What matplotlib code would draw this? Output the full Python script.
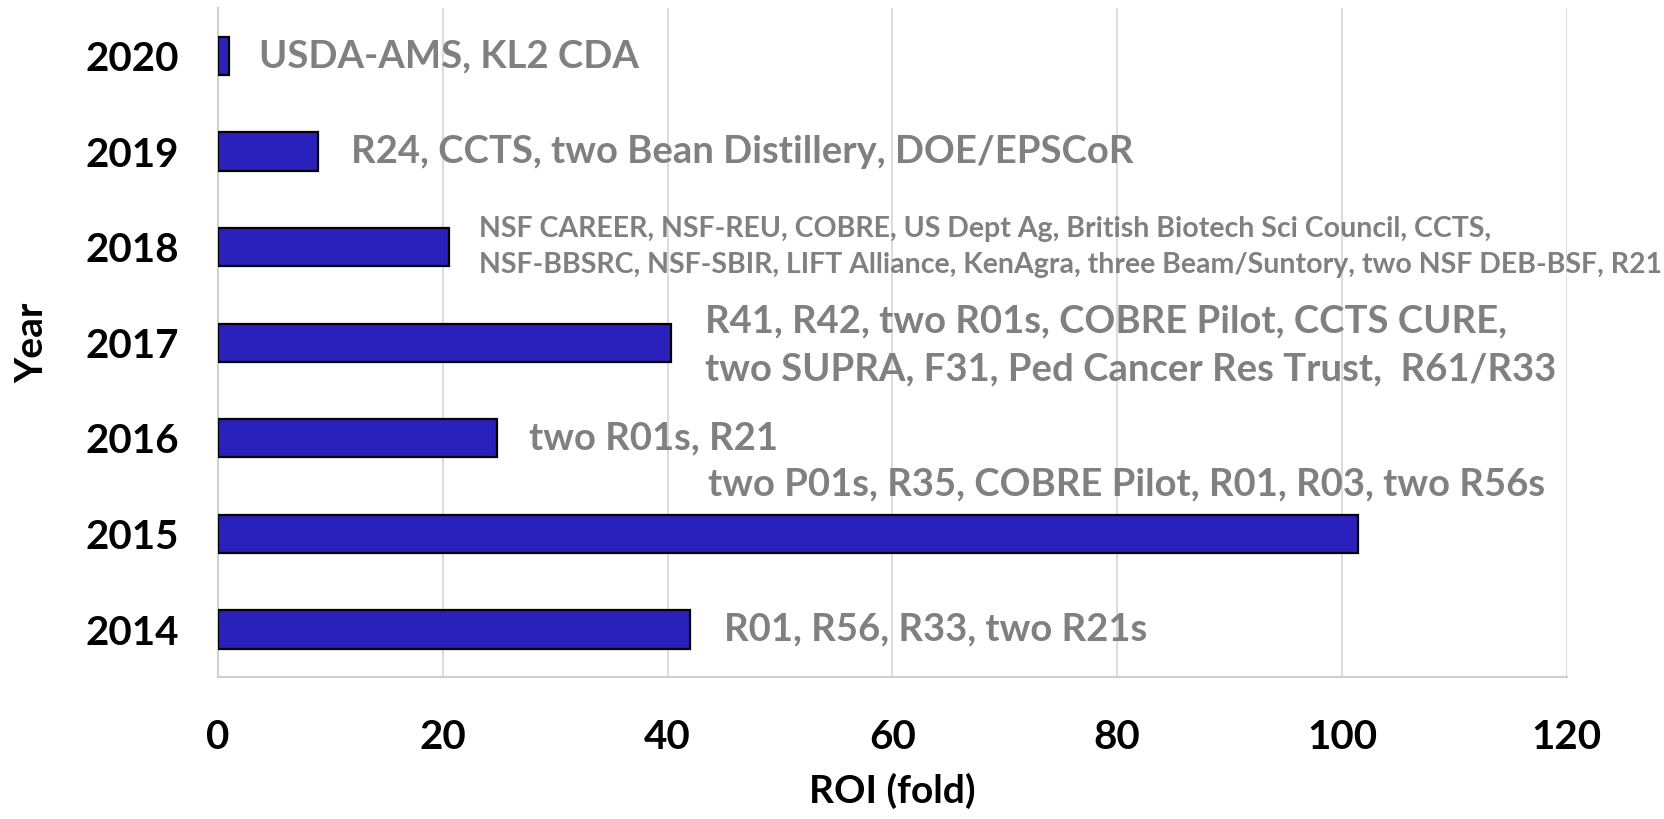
import matplotlib
matplotlib.use("Agg")
import matplotlib.pyplot as plt

# data
years = ["2014", "2015", "2016", "2017", "2018", "2019", "2020"]
roi = [42.0, 101.4, 24.8, 40.3, 20.5, 8.9, 1.0]
notes = [
    "R01, R56, R33, two R21s",
    "two P01s, R35, COBRE Pilot, R01, R03, two R56s",
    "two R01s, R21",
    "R41, R42, two R01s, COBRE Pilot, CCTS CURE,\ntwo SUPRA, F31, Ped Cancer Res Trust,  R61/R33",
    "NSF CAREER, NSF-REU, COBRE, US Dept Ag, British Biotech Sci Council, CCTS,\n"
    "NSF-BBSRC, NSF-SBIR, LIFT Alliance, KenAgra, three Beam/Suntory, two NSF DEB-BSF, R21",
    "R24, CCTS, two Bean Distillery, DOE/EPSCoR",
    "USDA-AMS, KL2 CDA",
]
note_x = [45.0, 43.6, 27.7, 43.3, 23.2, 11.8, 3.6]
note_y = [0.0, 1.52, 2.0, 2.97, 4.0, 5.0, 6.0]
note_size = [27.5, 27.5, 27.5, 27.5, 20.5, 27.5, 27.5]

plt.rcParams['font.family'] = ['Lato', 'DejaVu Sans']
plt.rcParams['font.weight'] = 'bold'

fig = plt.figure(figsize=(16.65, 8.19), dpi=100)
ax = fig.add_axes([0.131, 0.173, 0.81, 0.817])

pos = list(range(len(years)))
ax.barh(pos, roi, height=0.4, color='#2a20bb', edgecolor='black', linewidth=1.6, zorder=3)

for x, y, s, fs in zip(note_x, note_y, notes, note_size):
    ax.text(x, y, s, color='#808080', fontsize=fs, fontweight='bold',
            va='center', ha='left', linespacing=1.5, zorder=4)

ax.set_xlim(0, 120)
ax.set_ylim(-0.5, 6.5)
ax.set_xticks([0, 20, 40, 60, 80, 100, 120])
ax.set_yticks(pos)
ax.set_yticklabels(years)
ax.grid(axis='x', color='#d9d9d9', linewidth=1.3, zorder=0)
ax.tick_params(length=0, labelsize=29)
ax.tick_params(axis='x', pad=30)
ax.tick_params(axis='y', pad=28)
for lab in ax.get_xticklabels() + ax.get_yticklabels():
    lab.set_fontweight('bold')

for side in ['top', 'right']:
    ax.spines[side].set_visible(False)
for side in ['left', 'bottom']:
    ax.spines[side].set_color('#d0d0d0')
    ax.spines[side].set_linewidth(1.5)

ax.set_xlabel("ROI (fold)", fontsize=28, fontweight='bold', labelpad=12)
ax.set_ylabel("Year", fontsize=28, fontweight='bold', labelpad=26)

fig.savefig("out.png", dpi=100)
